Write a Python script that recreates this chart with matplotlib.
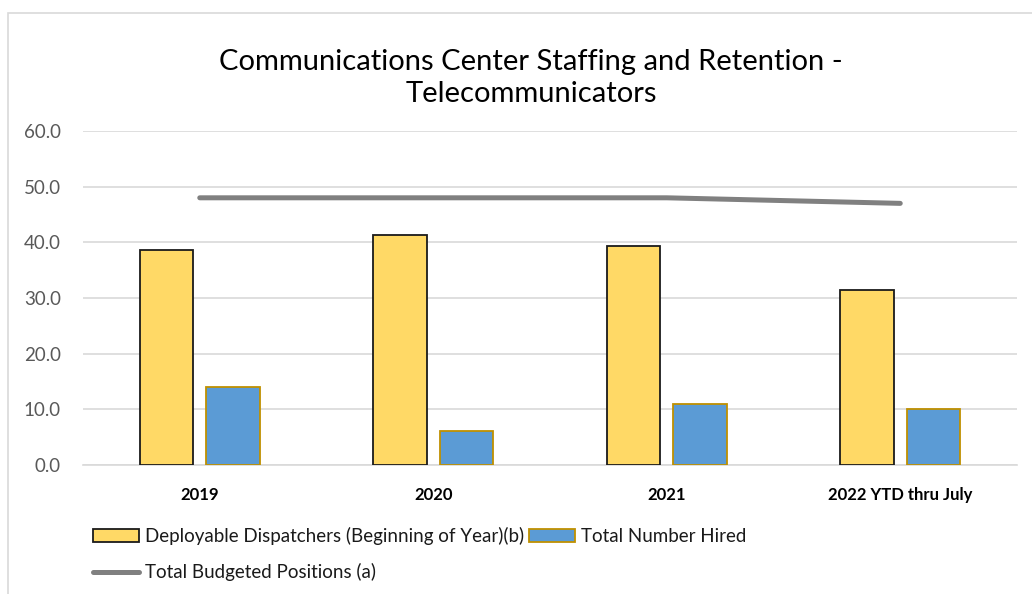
import matplotlib
matplotlib.use("Agg")
import matplotlib.pyplot as plt
import numpy as np
from matplotlib.patches import Rectangle
from matplotlib.lines import Line2D

categories = ["2019", "2020", "2021", "2022 YTD thru July"]
deployable = [38.7, 41.4, 39.4, 31.4]
hired = [14.1, 6.1, 10.9, 10.0]
budgeted = [48.0, 48.0, 48.0, 47.0]
yticks = [0, 10, 20, 30, 40, 50, 60]

title = "Communications Center Staffing and Retention -\nTelecommunicators"
lab_dep = "Deployable Dispatchers (Beginning of Year)(b)"
lab_hired = "Total Number Hired"
lab_budget = "Total Budgeted Positions (a)"

plt.rcParams['font.family'] = ['Lato', 'DejaVu Sans']

W, H = 1032, 594
fig = plt.figure(figsize=(W / 100, H / 100), dpi=100)
fig.patch.set_facecolor('white')

# chart frame
fig.patches.append(Rectangle((8 / W, -0.05), 1.1, 1 - 13 / H + 0.05, transform=fig.transFigure,
                             fill=False, edgecolor='#D9D9D9', linewidth=1.2))

ax = fig.add_axes([83 / W, 1 - 465 / H, (1017 - 83) / W, (465 - 131) / H])
x = np.arange(len(categories))
bw = 0.23
off = 0.142
ax.bar(x - off, deployable, bw, color='#FFD966', edgecolor='#1a1a1a', linewidth=1.3, zorder=3, label=lab_dep)
ax.bar(x + off, hired, bw, color='#5B9BD5', edgecolor='#BF9000', linewidth=1.3, zorder=3, label=lab_hired)
ax.plot(x, budgeted, color='#808080', linewidth=3.6, solid_capstyle='round', zorder=4, label=lab_budget)

ax.set_xlim(-0.5, len(categories) - 0.5)
ax.set_ylim(0, 60)
ax.set_yticks(yticks)
ax.set_yticklabels([f"{v:.1f}" for v in yticks], color='#595959', fontsize=13.5)
ax.set_xticks(x)
ax.set_xticklabels(categories, fontweight='bold', fontsize=12, color='black')
ax.tick_params(axis='y', length=0, pad=16)
ax.tick_params(axis='x', length=0, pad=16)
ax.grid(axis='y', color='#D9D9D9', linewidth=1.2, zorder=0)
for s in ax.spines.values():
    s.set_visible(False)
ax.spines['bottom'].set_visible(True)
ax.spines['bottom'].set_color('#D9D9D9')
ax.spines['bottom'].set_linewidth(1.2)

fig.text(531 / W, 1 - 78 / H, title, ha='center', va='center', fontsize=21, color='black',
         linespacing=1.3)

h_dep = Rectangle((0, 0), 1, 1, facecolor='#FFD966', edgecolor='#1a1a1a', linewidth=1.3)
h_hired = Rectangle((0, 0), 1, 1, facecolor='#5B9BD5', edgecolor='#BF9000', linewidth=1.3)
h_budget = Line2D([], [], color='#808080', linewidth=3.6, solid_capstyle='round')
leg = fig.legend([h_dep, h_budget, h_hired], [lab_dep, lab_budget, lab_hired],
                 loc='upper left', bbox_to_anchor=(93 / W, 1 - 527 / H), ncol=2,
                 frameon=False, fontsize=13.5, handlelength=2.45, handleheight=0.64,
                 handletextpad=0.32, columnspacing=0.27, labelspacing=0.95, borderpad=0,
                 borderaxespad=0)
for t in leg.get_texts():
    t.set_color('#1a1a1a')

fig.savefig("out.png", dpi=100)
